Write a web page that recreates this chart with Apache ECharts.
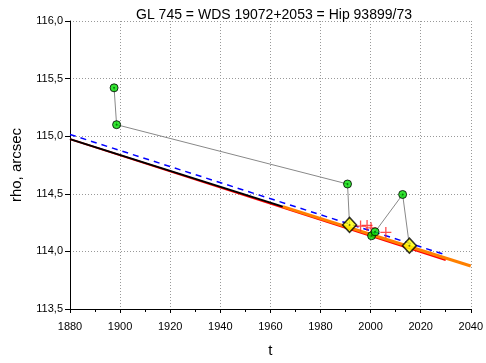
<!DOCTYPE html>
<html>
<head>
<meta charset="utf-8">
<script src="https://cdn.jsdelivr.net/npm/echarts@6/dist/echarts.min.js"></script>
<style>
  html, body { margin: 0; padding: 0; background: #fff; }
  #chart { width: 486px; height: 363px; }
</style>
</head>
<body>
<div id="chart"></div>
<script>
// Observed separations (green circles)
var obsT   = [1897.6, 1898.6, 1990.8, 2000.4, 2001.8, 2012.8];
var obsRho = [115.42, 115.10, 114.585, 114.136, 114.17, 114.494];

// Reference positions (yellow diamonds)
var refT   = [1991.6, 2015.5];
var refRho = [114.23, 114.05];

// Additional measurements (red crosses)
var crossT   = [1996.0, 1998.6, 2000.2, 2006.1];
var crossRho = [114.22, 114.225, 114.205, 114.165];

// Trend lines: [start t, start rho, end t, end rho]
var redFit    = [1880, 114.975, 2030, 113.924];
var blackFit  = [1880, 114.975, 1965, 114.389];
var orangeFit = [1965, 114.389, 2040, 113.873];
var blueFit   = [1880, 115.015, 2030, 113.970];

// Connecting path through the measurements
var pathA = [[obsT[0], obsRho[0]], [obsT[1], obsRho[1]], [obsT[2], obsRho[2]], [refT[0], refRho[0]]];
var pathB = [[obsT[4], obsRho[4]], [obsT[5], obsRho[5]], [refT[1], refRho[1]]];

var xTicks = [1880, 1900, 1920, 1940, 1960, 1980, 2000, 2020, 2040];
var yTicks = [113.5, 114.0, 114.5, 115.0, 115.5, 116.0];

function seg(f) { return [[f[0], f[1]], [f[2], f[3]]]; }
function pairs(a, b) { return a.map(function (v, i) { return [v, b[i]]; }); }

var FONT = 'Liberation Sans, Arial, sans-serif';
var chart = echarts.init(document.getElementById('chart'), null, { renderer: 'canvas' });

function lineSeries(data, color, width, type, z) {
  return {
    type: 'line', data: data, symbol: 'none', silent: true, z: z,
    lineStyle: { color: color, width: width, type: type || 'solid' },
    animation: false
  };
}

chart.setOption({
  animation: false,
  title: {
    text: 'GL 745 = WDS 19072+2053 = Hip 93899/73',
    left: 269, top: 3, textAlign: 'center',
    textStyle: { fontFamily: FONT, fontSize: 14, fontWeight: 'normal', color: '#000' }
  },
  grid: { left: 70, right: 14, top: 21, bottom: 47 },
  xAxis: {
    type: 'value', min: xTicks[0], max: xTicks[xTicks.length - 1], interval: 20,
    name: 't', nameLocation: 'middle', nameGap: 34,
    nameTextStyle: { fontFamily: FONT, fontSize: 15, color: '#000' },
    axisLine: { lineStyle: { color: '#000', width: 1 } },
    axisTick: { length: 4, lineStyle: { color: '#000' } },
    minorTick: { show: true, splitNumber: 2, length: 3, lineStyle: { color: '#000' } },
    axisLabel: {
      fontFamily: FONT, fontSize: 11, color: '#000', margin: 12,
      formatter: function (v) { return String(v); }
    },
    splitLine: { show: true, lineStyle: { color: '#999', type: [1, 2], width: 1 } }
  },
  yAxis: {
    type: 'value', min: yTicks[0], max: yTicks[yTicks.length - 1], interval: 0.5,
    name: 'rho, arcsec', nameLocation: 'middle', nameGap: 46,
    nameTextStyle: { fontFamily: FONT, fontSize: 15, color: '#000' },
    axisLine: { show: true, lineStyle: { color: '#000', width: 1 } },
    axisTick: { show: true, length: 5, lineStyle: { color: '#000' } },
    axisLabel: {
      fontFamily: FONT, fontSize: 11, color: '#000', margin: 7,
      formatter: function (v) { return v.toFixed(1).replace('.', ','); }
    },
    splitLine: { show: true, lineStyle: { color: '#999', type: [1, 2], width: 1 } }
  },
  series: [
    lineSeries(seg(redFit), '#ff0000', 2, 'solid', 2),
    lineSeries(seg(blackFit), '#000000', 2, 'solid', 3),
    lineSeries(seg(orangeFit), '#ff8000', 3, 'solid', 3),
    lineSeries(seg(blueFit), '#0000ff', 1.5, [6, 5], 4),
    lineSeries(pathA, '#888888', 1, 'solid', 5),
    lineSeries(pathB, '#888888', 1, 'solid', 5),
    {
      type: 'scatter', data: pairs(crossT, crossRho), z: 6, silent: true,
      symbol: 'path://M0,5L10,5M5,0L5,10', symbolSize: 11,
      itemStyle: { color: 'rgba(0,0,0,0)', borderColor: '#ff2020', borderWidth: 1.3 }
    },
    {
      type: 'scatter', data: pairs(refT, refRho), z: 7, silent: true,
      symbol: 'diamond', symbolSize: [14, 15],
      itemStyle: { color: '#ffff00', borderColor: '#000', borderWidth: 1.5 }
    },
    {
      type: 'scatter', data: pairs(refT, refRho), z: 8, silent: true,
      symbol: 'circle', symbolSize: 2,
      itemStyle: { color: '#555500' }
    },
    {
      type: 'scatter', data: pairs(obsT, obsRho), z: 9, silent: true,
      symbol: 'circle', symbolSize: 8,
      itemStyle: { color: '#00dd00', borderColor: '#000', borderWidth: 1 }
    },
    {
      type: 'scatter', data: pairs(obsT, obsRho), z: 10, silent: true,
      symbol: 'circle', symbolSize: 2,
      itemStyle: { color: '#006600' }
    }
  ]
});
</script>
</body>
</html>
